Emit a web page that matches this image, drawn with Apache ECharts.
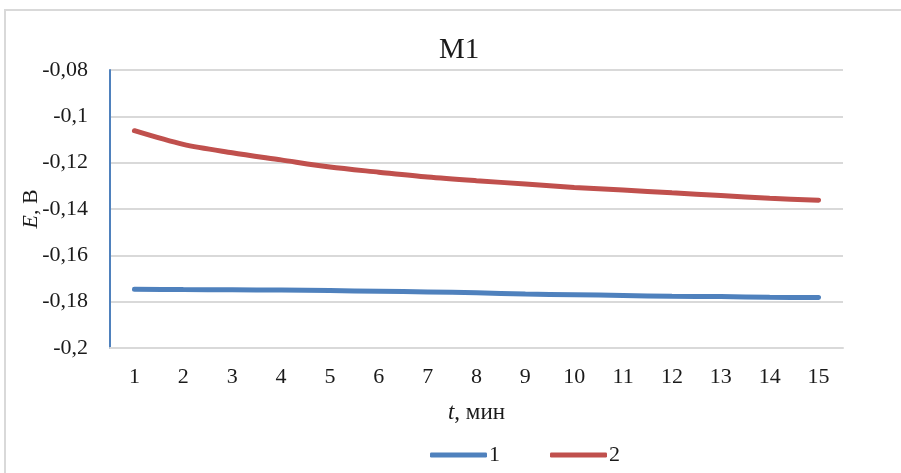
<!DOCTYPE html>
<html>
<head>
<meta charset="utf-8">
<script src="https://cdn.jsdelivr.net/npm/echarts@6/dist/echarts.min.js"></script>
<style>
  html, body { margin: 0; padding: 0; background: #fff; }
  #chart { width: 901px; height: 473px; }
</style>
</head>
<body>
<div id="chart"></div>
<script>
// Time points, minutes
const minutes = ['1','2','3','4','5','6','7','8','9','10','11','12','13','14','15'];
// Electrode potential E, V
const series1 = [-0.1746, -0.1748, -0.1749, -0.1750, -0.1752, -0.1755, -0.1758, -0.1762, -0.1767, -0.1770, -0.1773, -0.1777, -0.1778, -0.1781, -0.1782];
const series2 = [-0.1062, -0.1121, -0.1157, -0.1188, -0.1219, -0.1241, -0.1262, -0.1278, -0.1292, -0.1307, -0.1318, -0.1330, -0.1342, -0.1354, -0.1362];
const seriesNames = ['1', '2'];
const yMin = -0.2, yMax = -0.08, yStep = 0.02;

const FONT = '"Liberation Serif", "Times New Roman", serif';
const TXT = '#1a1a1a';

const chart = echarts.init(document.getElementById('chart'), null, { renderer: 'canvas' });

chart.setOption({
  backgroundColor: '#fff',
  animation: false,
  graphic: [{
    type: 'rect',
    shape: { x: 5, y: 10, width: 1000, height: 1000 },
    style: { fill: 'none', stroke: '#d9d9d9', lineWidth: 2 },
    silent: true
  }],
  title: {
    text: 'M1',
    left: 434,
    top: 31,
    textStyle: { fontFamily: FONT, fontSize: 29, fontWeight: 'normal', color: TXT }
  },
  legend: {
    data: seriesNames,
    left: 425,
    bottom: 2,
    icon: 'roundRect',
    itemWidth: 57,
    itemHeight: 5,
    itemGap: 50,
    textStyle: { fontFamily: FONT, fontSize: 22, color: TXT, padding: [0, 0, 0, -3] }
  },
  grid: { left: 110, right: 58, top: 70, bottom: 125, containLabel: false },
  xAxis: {
    type: 'category',
    data: minutes,
    boundaryGap: true,
    name: '{i|t}, мин',
    nameLocation: 'middle',
    nameGap: 53,
    nameTextStyle: {
      fontFamily: FONT, fontSize: 23, color: TXT,
      rich: { i: { fontFamily: FONT, fontSize: 23, fontStyle: 'italic', color: TXT } }
    },
    axisLine: { show: true, lineStyle: { color: '#d9d9d9', width: 2 } },
    axisTick: { show: false },
    axisLabel: { fontFamily: FONT, fontSize: 22, color: TXT, margin: 18 },
    splitLine: { show: false }
  },
  yAxis: {
    type: 'value',
    min: yMin,
    max: yMax,
    interval: yStep,
    name: '{i|E}, В',
    nameLocation: 'middle',
    nameRotate: 90,
    nameGap: 79,
    nameMoveOverlap: false,
    nameTextStyle: {
      fontFamily: FONT, fontSize: 22, color: TXT,
      align: 'center', verticalAlign: 'middle',
      rich: { i: { fontFamily: FONT, fontSize: 22, fontStyle: 'italic', color: TXT } }
    },
    axisLine: { show: true, lineStyle: { color: '#4f81bd', width: 2 } },
    axisTick: { show: false },
    axisLabel: {
      fontFamily: FONT, fontSize: 22, color: TXT, margin: 22,
      formatter: v => String(+v.toFixed(2)).replace('.', ',')
    },
    splitLine: { show: true, lineStyle: { color: '#d9d9d9', width: 2 } }
  },
  series: [
    {
      name: seriesNames[0],
      type: 'line',
      data: series1,
      smooth: 0.3,
      showSymbol: false,
      symbol: 'none',
      color: '#4f81bd',
      lineStyle: { width: 5, color: '#4f81bd', cap: 'round' }
    },
    {
      name: seriesNames[1],
      type: 'line',
      data: series2,
      smooth: 0.3,
      showSymbol: false,
      symbol: 'none',
      color: '#c0504d',
      lineStyle: { width: 5, color: '#c0504d', cap: 'round' }
    }
  ]
});
</script>
</body>
</html>
